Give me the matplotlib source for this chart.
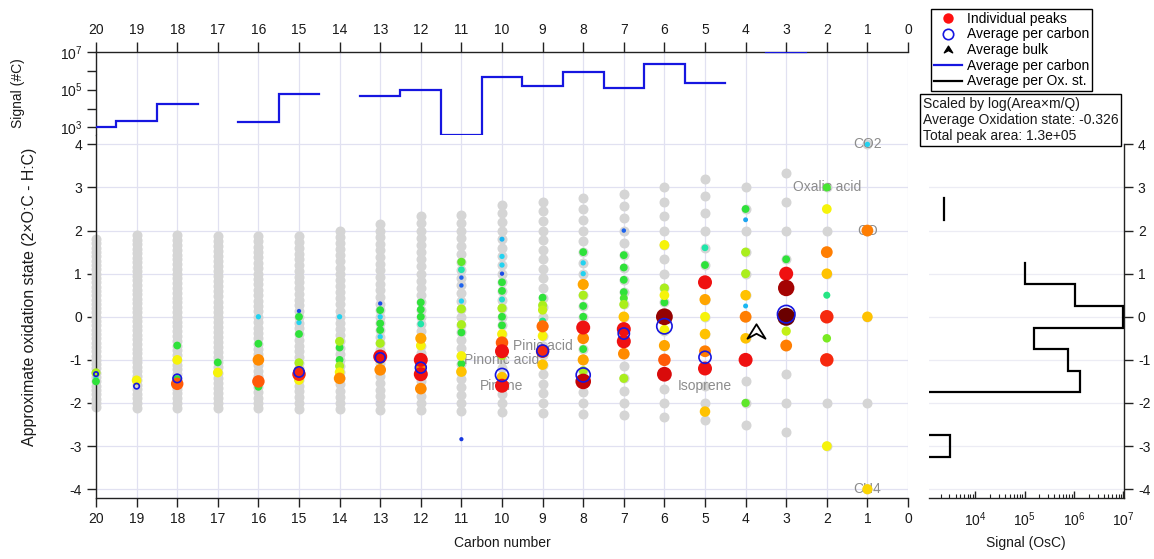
import numpy as np
import matplotlib
matplotlib.use("Agg")
import matplotlib.pyplot as plt
from matplotlib.colors import LinearSegmentedColormap
from matplotlib.path import Path
from matplotlib.lines import Line2D
from matplotlib.ticker import FixedLocator, FuncFormatter, LogLocator, NullFormatter

plt.rcParams['font.family'] = ['Liberation Sans', 'DejaVu Sans']
plt.rcParams['mathtext.fontset'] = 'custom'
plt.rcParams['mathtext.rm'] = 'Liberation Sans'
plt.rcParams['mathtext.it'] = 'Liberation Sans:italic'
plt.rcParams['mathtext.bf'] = 'Liberation Sans:bold'
plt.rcParams['mathtext.default'] = 'regular'
plt.rcParams['axes.unicode_minus'] = False
plt.rcParams['font.size'] = 10

nan = np.nan

# ---------------------------------------------------------------- data
carbons = list(range(20, 0, -1))

# summed signal per carbon number (#C)
signal_per_carbon = [1.05e3, 2.2e3, 1.8e4, nan, 2.0e3, 6.2e4, nan, 4.7e4, 9.5e4, 4.0e2,
                     4.5e5, 1.6e5, 8.9e5, 1.2e5, 2.2e6, 2.3e5, nan, 1.0e7, nan, nan]
# signal-weighted average oxidation state per carbon number
avg_os_per_carbon = [-1.33, -1.61, -1.43, nan, nan, -1.28, nan, -0.95, -1.18, nan,
                     -1.35, -0.79, -1.35, -0.39, -0.22, -0.94, nan, 0.06, nan, nan]

# candidate formula grid: range of (2*nO - nH) for each carbon number
grid_num_lo = [-42, -40, -38, -36, -34, -32, -30, -28, -26, -24,
               -22, -20, -18, -16, -14, -12, -10, -8, -6, -4]
grid_num_hi = [36, 36, 34, 32, 30, 28, 28, 28, 28, 26,
               26, 24, 22, 20, 18, 16, 12, 10, 6, 4]

# individual peaks: carbon number, oxidation state, log10(Area*m/Q)
peak_carbon = (
    [20] * 3 + [19] * 1 + [18] * 4 + [17] * 2 + [16] * 5 + [15] * 8 + [14] * 7 +
    [13] * 10 + [12] * 10 + [11] * 12 + [10] * 16 + [9] * 8 + [8] * 13 + [7] * 12 +
    [6] * 9 + [5] * 9 + [4] * 10 + [3] * 6 + [2] * 9 + [1] * 4)
peak_os = [
    -1.3, -1.4, -1.5,
    -1.474,
    -0.667, -1.0, -1.444, -1.556,
    -1.059, -1.294,
    0.0, -0.625, -1.0, -1.5, -1.625,
    0.133, 0.0, -0.133, -0.4, -1.067, -1.25, -1.333, -1.467,
    0.0, -0.571, -0.714, -1.0, -1.143, -1.286, -1.429,
    0.308, 0.154, 0.0, -0.154, -0.308, -0.462, -0.615, -0.923, -1.0, -1.231,
    0.333, 0.167, 0.0, -0.167, -0.5, -0.667, -1.0, -1.167, -1.333, -1.667,
    1.273, 1.091, 0.909, 0.727, 0.364, 0.182, -0.182, -0.364, -0.909, -1.091, -1.273, -2.84,
    1.8, 1.4, 1.2, 1.0, 0.8, 0.6, 0.4, 0.2, 0.0, -0.2, -0.4, -0.6, -0.8, -0.9, -1.4, -1.6,
    0.444, 0.267, 0.156, -0.1, -0.222, -0.444, -0.8, -1.111,
    1.5, 1.25, 1.0, 0.75, 0.5, 0.25, 0.0, -0.25, -0.5, -0.75, -1.0, -1.25, -1.5,
    2.0, 1.429, 1.143, 0.857, 0.571, 0.43, 0.286, 0.0, -0.286, -0.571, -0.857, -1.429,
    1.667, 0.667, 0.5, 0.333, 0.0, -0.3, -0.667, -1.0, -1.333,
    1.6, 1.2, 0.8, 0.4, 0.0, -0.4, -0.8, -1.2, -2.2,
    2.5, 2.25, 1.5, 1.0, 0.5, 0.25, 0.0, -0.5, -1.0, -2.0,
    1.333, 1.0, 0.667, 0.0, -0.333, -0.667,
    3.0, 2.5, 1.5, 1.0, 0.5, 0.0, -0.5, -1.0, -3.0,
    4.0, 2.0, 0.0, -4.0,
]
peak_logsig = [
    4.0, 2.8, 3.5,
    4.3,
    3.5, 4.3, 3.5, 5.2,
    3.5, 4.3,
    2.8, 3.5, 4.95, 5.2, 3.5,
    2.1, 3.5, 2.8, 3.5, 4.0, 4.65, 5.4, 4.3,
    2.8, 4.0, 3.5, 3.5, 4.0, 4.3, 4.95,
    2.1, 3.5, 2.8, 3.5, 3.5, 2.8, 4.0, 5.5, 4.0, 4.95,
    3.5, 3.5, 3.5, 3.2, 4.8, 4.3, 5.5, 4.95, 5.5, 4.95,
    3.7, 3.2, 2.2, 2.2, 2.8, 4.0, 4.0, 3.5, 4.3, 3.5, 4.65, 2.0,
    2.6, 2.8, 2.8, 2.1, 3.5, 3.5, 3.0, 4.0, 3.5, 3.5, 4.3, 5.2, 5.5, 4.0, 4.65, 5.5,
    3.5, 4.0, 4.1, 3.3, 5.1, 4.3, 5.4, 4.65,
    3.5, 2.8, 2.8, 4.8, 4.0, 3.5, 3.5, 5.5, 4.95, 3.5, 4.8, 4.0, 5.7,
    2.2, 3.5, 3.5, 3.5, 3.5, 3.6, 4.0, 4.65, 5.5, 5.5, 4.95, 4.0,
    4.3, 4.0, 4.3, 3.5, 5.85, 4.3, 4.8, 5.2, 5.6,
    3.2, 3.5, 5.5, 4.8, 4.3, 4.65, 5.0, 5.5, 4.65,
    3.5, 2.5, 4.0, 4.0, 4.65, 2.6, 5.0, 4.65, 5.5, 3.7,
    3.5, 5.5, 5.8, 6.0, 4.1, 5.0,
    3.6, 4.3, 5.0, 4.65, 3.3, 5.4, 3.8, 5.4, 4.3,
    2.8, 5.0, 4.65, 4.5,
]

# named compounds: label, carbon number, oxidation state
compound_names = ['CO2', 'CO', 'CH4', 'Oxalic acid', 'Pinic acid', 'Pinonic acid', 'Pinene', 'Isoprene']
compound_carbon = [1, 1, 1, 2, 9, 10, 10, 5]
compound_os = [4.0, 2.0, -4.0, 3.0, -0.667, -1.0, -1.6, -1.6]

# bulk average
bulk_carbon = 3.75
bulk_os = -0.326
total_area = 1.3e5

# summed signal per oxidation state bin (OsC)
os_bins = [3.0, 2.5, 2.0, 1.5, 1.0, 0.5, 0.0, -0.5, -1.0, -1.5, -2.0, -2.5, -3.0, -3.5, -4.0]
signal_per_os = [nan, 2.3e3, nan, nan, 1.0e5, 1.05e6, 1.0e7, 1.55e5, 7.6e5, 1.35e6,
                 1e1, 1e1, 3.1e3, 1e1, nan]

# ---------------------------------------------------------------- styling helpers
W, H = 1154, 559
GRID = '#e1e1f1'
SPINE = '#222222'
BLUE = '#1616e0'
LABEL_GRAY = '#8c8c8c'

peak_cmap = LinearSegmentedColormap.from_list('peaks', [
    (0.0, '#1636e0'), (0.06, '#1f6ff0'), (0.15, '#1ab8f2'), (0.2, '#22d2f0'),
    (0.3, '#20e6a8'), (0.375, '#2ee23a'), (0.45, '#78ea22'), (0.5, '#a8ee1e'),
    (0.575, '#f6f40a'), (0.6625, '#ffc200'), (0.7375, '#ff8a00'), (0.8, '#ff5a08'),
    (0.875, '#f21212'), (0.93, '#c00404'), (1.0, '#6a0000')])
LOG_MIN, LOG_MAX = 2.0, 6.0


def px_to_pt2(d_px):
    return (d_px * 72.0 / 100.0) ** 2


def rect(left, top, right, bottom):
    return [left / W, 1 - bottom / H, (right - left) / W, (bottom - top) / H]


def step_runs(centers, values, half):
    """Split into contiguous non-NaN runs and return step outlines."""
    runs, cur = [], []
    for c, v in zip(centers, values):
        if np.isnan(v):
            if cur:
                runs.append(cur)
                cur = []
        else:
            cur.append((c, v))
    if cur:
        runs.append(cur)
    out = []
    for run in runs:
        cs = np.array([r[0] for r in run], dtype=float)
        vs = np.array([r[1] for r in run], dtype=float)
        pos = np.column_stack([cs + half, cs - half]).ravel()
        out.append((pos, np.repeat(vs, 2)))
    return out


fig = plt.figure(figsize=(W / 100, H / 100), dpi=100)
ax_top = fig.add_axes(rect(96, 51.7, 908, 135.3))
ax = fig.add_axes(rect(96, 135.3, 908, 497.8))
ax_r = fig.add_axes(rect(929, 135.3, 1124, 497.8))

# ---------------------------------------------------------------- main panel
ax.set_xlim(20, 0)
ax.set_ylim(-4.2, 4.21)
ax.set_xticks(range(0, 21))
ax.set_xticklabels([str(i) for i in range(0, 21)])
ax.set_yticks(range(-4, 5))
ax.grid(True, color=GRID, lw=0.9, zorder=0)
ax.set_axisbelow(True)
for s in ('top', 'right'):
    ax.spines[s].set_visible(False)
for s in ('left', 'bottom'):
    ax.spines[s].set_color(SPINE)
    ax.spines[s].set_linewidth(1.0)
ax.tick_params(direction='out', length=6.5, width=1, color=SPINE, labelsize=10, pad=3.5,
               labelcolor='#1a1a1a')

# candidate formula grid
gx, gy = [], []
for c, lo, hi in zip(carbons, grid_num_lo, grid_num_hi):
    for n in range(lo, hi + 1, 2):
        gx.append(c)
        gy.append(n / c)
ax.scatter(gx, gy, s=px_to_pt2(10), c='#d5d5d5', linewidths=0, zorder=2, clip_on=False)

# compound labels
for name, c, o in zip(compound_names, compound_carbon, compound_os):
    ax.text(c, o, name, color=LABEL_GRAY, fontsize=10, ha='center', va='center',
            zorder=2.5, clip_on=False)

# individual peaks, colour and size by log signal; largest on top
pc = np.array(peak_carbon, dtype=float)
po = np.array(peak_os, dtype=float)
pl = np.array(peak_logsig, dtype=float)
order = np.argsort(pl, kind='stable')
lev = np.clip((pl - LOG_MIN) / (LOG_MAX - LOG_MIN), 0, 1)
diam = np.interp(lev, [0, 0.2, 0.375, 0.5, 0.66, 0.8, 0.875, 1.0],
                 [4.2, 5.3, 7.8, 9.0, 10.5, 12.5, 14.0, 18.0])
ax.scatter(pc[order], po[order], s=px_to_pt2(diam[order]), c=peak_cmap(lev[order]),
           linewidths=0, zorder=3, clip_on=False)

# average per carbon rings, sized by per-carbon signal
cc = np.array(carbons, dtype=float)
sc = np.array(signal_per_carbon, dtype=float)
ao = np.array(avg_os_per_carbon, dtype=float)
ok = ~np.isnan(ao) & ~np.isnan(sc)
ring_d = 3 + 3.3 * (np.log10(sc[ok]) - 2.6)
ax.scatter(cc[ok], ao[ok], s=px_to_pt2(ring_d), facecolors='none', edgecolors=BLUE,
           linewidths=1.2, zorder=4, clip_on=False)

# bulk average marker
arrow = Path([(0, 0.8), (1, -0.8), (0, -0.25), (-1, -0.8), (0, 0.8)],
             [Path.MOVETO, Path.LINETO, Path.LINETO, Path.LINETO, Path.CLOSEPOLY])
ax.plot([bulk_carbon], [bulk_os], marker=arrow, markersize=13, markerfacecolor='none',
        markeredgecolor='black', markeredgewidth=1.3, linestyle='none', zorder=5)

# ---------------------------------------------------------------- top panel
ax_top.set_xlim(20, 0)
ax_top.set_yscale('log')
ax_top.set_ylim(3.8e2, 1.03e7)
ax_top.set_xticks(range(0, 21))
ax_top.set_xticklabels([str(i) for i in range(0, 21)])
ax_top.xaxis.tick_top()
ax_top.yaxis.set_major_locator(FixedLocator([1e3, 1e4, 1e5, 1e6, 1e7]))
ax_top.yaxis.set_minor_locator(FixedLocator([]))
ax_top.yaxis.set_major_formatter(FuncFormatter(
    lambda v, p: '$10^{%d}$' % round(np.log10(v)) if round(np.log10(v)) % 2 == 1 else ''))
ax_top.grid(True, axis='x', color=GRID, lw=0.9, zorder=0)
ax_top.set_axisbelow(True)
for s in ('bottom', 'right'):
    ax_top.spines[s].set_visible(False)
for s in ('left', 'top'):
    ax_top.spines[s].set_color(SPINE)
    ax_top.spines[s].set_linewidth(1.0)
ax_top.tick_params(axis='x', direction='out', length=7, width=1, color=SPINE, labelsize=10,
                   pad=3.5, labelcolor='#1a1a1a', top=True, bottom=False,
                   labeltop=True, labelbottom=False)
ax_top.tick_params(axis='y', direction='out', length=6.5, width=1, color=SPINE, labelsize=10,
                   pad=3.5, labelcolor='#1a1a1a')
for pos, val in step_runs(carbons, signal_per_carbon, 0.5):
    ax_top.plot(pos, val, color=BLUE, lw=1.6, solid_joinstyle='miter', zorder=4)

# ---------------------------------------------------------------- right panel
ax_r.set_xscale('log')
ax_r.set_xlim(1.16e3, 1.03e7)
ax_r.set_ylim(-4.2, 4.21)
ax_r.set_yticks(range(-4, 5))
ax_r.yaxis.tick_right()
ax_r.xaxis.set_major_locator(FixedLocator([1e4, 1e5, 1e6, 1e7]))
ax_r.xaxis.set_major_formatter(FuncFormatter(lambda v, p: '$10^{%d}$' % round(np.log10(v))))
ax_r.xaxis.set_minor_locator(LogLocator(base=10, subs=np.arange(2, 10)))
ax_r.xaxis.set_minor_formatter(NullFormatter())
ax_r.grid(True, axis='y', color='#ececf4', lw=0.9, zorder=0)
ax_r.set_axisbelow(True)
for s in ('left', 'top'):
    ax_r.spines[s].set_visible(False)
for s in ('right', 'bottom'):
    ax_r.spines[s].set_color(SPINE)
    ax_r.spines[s].set_linewidth(1.0)
ax_r.spines['right'].set_bounds(-4.2, 4.0)
ax_r.tick_params(axis='y', direction='out', length=6.5, width=1, color=SPINE, labelsize=10,
                 pad=3.5, labelcolor='#1a1a1a', right=True, left=False,
                 labelright=True, labelleft=False)
ax_r.tick_params(axis='x', which='major', direction='in', length=5, width=1, color=SPINE,
                 labelsize=10, pad=9, labelcolor='#1a1a1a')
ax_r.tick_params(axis='x', which='minor', direction='in', length=3, width=0.8, color=SPINE)
for pos, val in step_runs(os_bins, signal_per_os, 0.25):
    ax_r.plot(val, pos, color='black', lw=1.6, solid_joinstyle='miter', zorder=4)

# ---------------------------------------------------------------- axis titles
fig.text(30 / W, 1 - 297 / H, 'Approximate oxidation state (2×O:C - H:C)', rotation=90,
         ha='center', va='center', fontsize=11.4, color='#1a1a1a')
fig.text(18 / W, 1 - 93 / H, 'Signal (#C)', rotation=90, ha='center', va='center',
         fontsize=10, color='#1a1a1a')
fig.text(502 / W, 1 - 543 / H, 'Carbon number', ha='center', va='center', fontsize=10,
         color='#1a1a1a')
fig.text(1026 / W, 1 - 543 / H, 'Signal (OsC)', ha='center', va='center', fontsize=10,
         color='#1a1a1a')

# ---------------------------------------------------------------- legend and info box
handles = [
    Line2D([], [], marker='o', linestyle='none', markerfacecolor='#ff1010',
           markeredgecolor='none', markersize=7.5),
    Line2D([], [], marker='o', linestyle='none', markerfacecolor='none',
           markeredgecolor=BLUE, markeredgewidth=1.2, markersize=7.5),
    Line2D([], [], marker=arrow, linestyle='none', markerfacecolor='black',
           markeredgecolor='black', markersize=6),
    Line2D([], [], color=BLUE, lw=1.6),
    Line2D([], [], color='black', lw=1.6),
]
labels = ['Individual peaks', 'Average per carbon', 'Average bulk',
          'Average per carbon', 'Average per Ox. st.']
leg = fig.legend(handles, labels, loc='upper left', bbox_to_anchor=(931 / W, 1 - 9 / H),
                 frameon=True, fancybox=False, edgecolor='black', framealpha=1,
                 borderpad=0.2, labelspacing=0.12, handlelength=2.0, handletextpad=0.4,
                 borderaxespad=0, fontsize=10)
leg.get_frame().set_linewidth(1.0)

info = ('Scaled by log(Area×m/Q)\n'
        'Average Oxidation state: %.3f\n'
        'Total peak area: %.1e' % (bulk_os, total_area))
fig.text(923 / W, 1 - 97 / H, info, ha='left', va='top', fontsize=10, linespacing=1.2,
         color='#1a1a1a',
         bbox=dict(boxstyle='square,pad=0.2', fc='white', ec='black', lw=1.0))

fig.savefig('out.png', dpi=100)
